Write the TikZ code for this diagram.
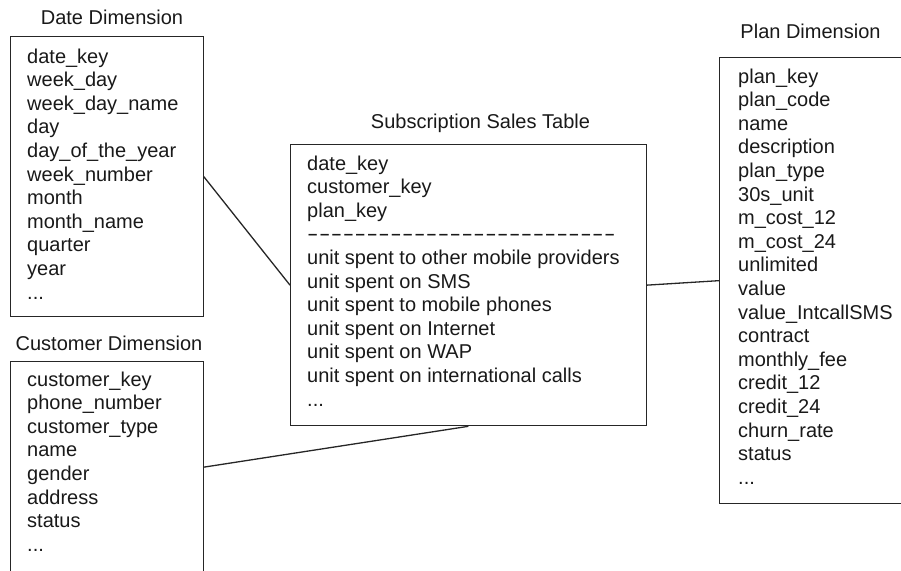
\documentclass[tikz,border=0pt]{standalone}
\usepackage{fontspec}
\setmainfont{Liberation Sans}
\newcommand{\onedash}{\scalebox{1.7}[1]{-}\kern0.55pt}
\newcommand{\fivedash}{\onedash\onedash\onedash\onedash\onedash}
\newcommand{\dashrow}{\fivedash\fivedash\fivedash\fivedash\fivedash\onedash}
\newcommand{\ellip}{.\kern0pt.\kern0pt.}
\begin{document}
\begin{tikzpicture}[x=1pt,y=-1pt,
  box/.style={draw=black!85, line width=1.3pt, rectangle, inner sep=0pt, anchor=north west},
  head/.style={anchor=base, inner sep=0pt, text=black!90, font=\fontsize{20}{24}\selectfont},
  item/.style={anchor=base west, inner sep=0pt, text=black!90, font=\fontsize{20}{24}\selectfont},
  link/.style={draw=black!85, line width=1.3pt}]
\useasboundingbox (0,0) rectangle (901,570);
\clip (0,0) rectangle (901,570);

% boxes
\node[box, minimum width=193pt, minimum height=280pt] (date) at (9.5,36) {};
\node[box, minimum width=193pt, minimum height=211pt] (cust) at (9.5,361) {};
\node[box, minimum width=355.5pt, minimum height=281pt] (fact) at (290,144) {};
\node[box, minimum width=186pt, minimum height=446pt] (plan) at (719,57) {};

% headers
\node[head] (dateh) at (112,24) {Date Dimension};
\node[head] (custh) at (109,350) {Customer Dimension};
\node[head] (facth) at (480.5,128) {Subscription Sales Table};
\node[head] (planh) at (810.5,38) {Plan Dimension};

% date items
\foreach \t [count=\i] in {date\_key, week\_day, week\_day\_name, day, day\_of\_the\_year, week\_number, month, month\_name, quarter, year, \ellip}
  \node[item] (d\i) at (27,63+23.6*\i-23.6) {\t};

% customer items
\foreach \t [count=\i] in {customer\_key, phone\_number, customer\_type, name, gender, address, status, \ellip}
  \node[item] (c\i) at (27,386+23.6*\i-23.6) {\t};

% fact items
\foreach \t [count=\i] in {date\_key, customer\_key, plan\_key, \dashrow, unit spent to other mobile providers, unit spent on SMS, unit spent to mobile phones, unit spent on Internet, unit spent on WAP, unit spent on international calls, \ellip}
  \node[item] (f\i) at (307,170+23.6*\i-23.6) {\t};

% plan items
\foreach \t [count=\i] in {plan\_key, plan\_code, name, description, plan\_type, 30s\_unit, m\_cost\_12, m\_cost\_24, unlimited, value, value\_IntcallSMS, contract, monthly\_fee, credit\_12, credit\_24, churn\_rate, status, \ellip}
  \node[item] (p\i) at (738,83+23.6*\i-23.6) {\t};

% connectors
\draw[link] (date.east) -- (fact.west);
\draw[link] (cust.east) -- (fact.south);
\draw[link] (fact.east) -- (plan.west);
\end{tikzpicture}
\end{document}
